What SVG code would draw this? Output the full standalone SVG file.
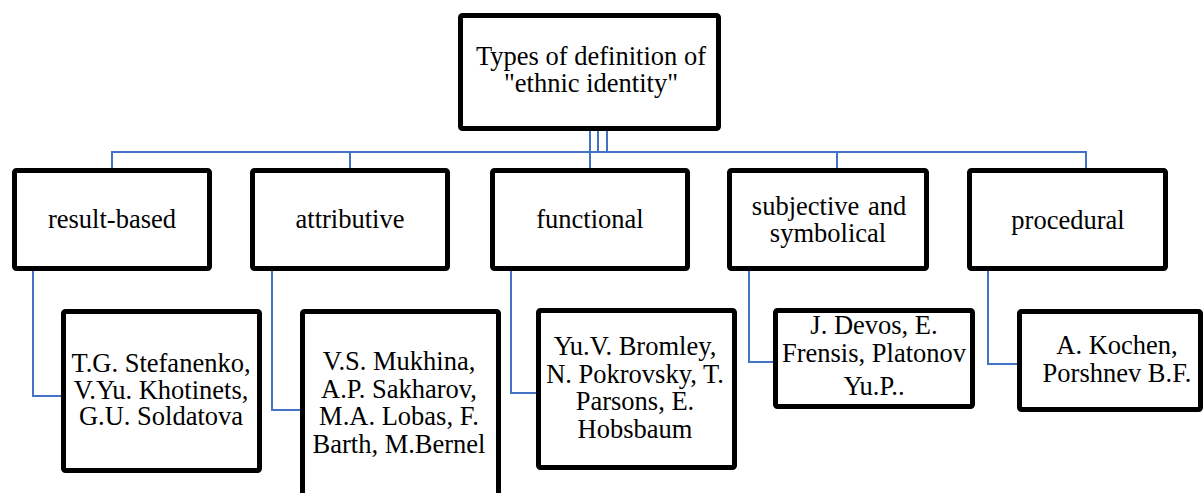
<svg xmlns="http://www.w3.org/2000/svg" width="1204" height="493" viewBox="0 0 1204 493">
<style>
.box{fill:#fff;stroke:#000;stroke-width:5;}
.t{font-family:"Liberation Serif","Times New Roman","DejaVu Serif",serif;font-size:26.5px;fill:#000;text-anchor:middle;}
.c{fill:none;stroke:#4472C4;stroke-width:2;}
</style>
<rect width="1204" height="493" fill="#fff"/>
<g id="connectors">
<path class="c" d="M590 131V152M598 131V152M607 131V152"/>
<path class="c" d="M112 168V152H1086V168M350 152V168M590 152V168M837 152V168"/>
<path class="c" d="M33 271V396H61"/>
<path class="c" d="M272 271V410H300"/>
<path class="c" d="M511 271V393H536"/>
<path class="c" d="M749 271V362H773"/>
<path class="c" d="M988 271V364H1017"/>
</g>
<g id="root">
<rect class="box" x="460.5" y="15.5" width="258" height="113" rx="2"/>
<text class="t" x="591" y="65">Types of definition of</text>
<text class="t" x="591" y="92">"ethnic identity"</text>
</g>
<g id="result-based">
<rect class="box" x="14.5" y="170.5" width="195" height="98" rx="2"/>
<text class="t" x="112" y="228">result-based</text>
</g>
<g id="attributive">
<rect class="box" x="252.5" y="170.5" width="195" height="98" rx="2"/>
<text class="t" x="350" y="228">attributive</text>
</g>
<g id="functional">
<rect class="box" x="492.5" y="170.5" width="195" height="98" rx="2"/>
<text class="t" x="590" y="228">functional</text>
</g>
<g id="subjective">
<rect class="box" x="729.5" y="170.5" width="197" height="98" rx="2"/>
<text class="t" x="829" y="215" word-spacing="2">subjective and</text>
<text class="t" x="828" y="242">symbolical</text>
</g>
<g id="procedural">
<rect class="box" x="969.5" y="170.5" width="196" height="98" rx="2"/>
<text class="t" x="1068" y="229">procedural</text>
</g>
<g id="authors-result">
<rect class="box" x="63.5" y="311.5" width="196" height="159" rx="2"/>
<text class="t" x="161" y="372">T.G. Stefanenko,</text>
<text class="t" x="161" y="399">V.Yu. Khotinets,</text>
<text class="t" x="161" y="425">G.U. Soldatova</text>
</g>
<g id="authors-attributive">
<rect class="box" x="302.5" y="311.5" width="196" height="190" rx="2"/>
<text class="t" x="399" y="370">V.S. Mukhina,</text>
<text class="t" x="399" y="398">A.P. Sakharov,</text>
<text class="t" x="399" y="425">M.A. Lobas, F.</text>
<text class="t" x="399" y="453">Barth, M.Bernel</text>
</g>
<g id="authors-functional">
<rect class="box" x="538.5" y="310.5" width="196" height="157" rx="2"/>
<text class="t" x="635" y="355">Yu.V. Bromley,</text>
<text class="t" x="635" y="383">N. Pokrovsky, T.</text>
<text class="t" x="635" y="410">Parsons, E.</text>
<text class="t" x="635" y="438">Hobsbaum</text>
</g>
<g id="authors-subjective">
<rect class="box" x="775.5" y="310.5" width="197" height="96" rx="2"/>
<text class="t" x="874" y="334">J. Devos, E.</text>
<text class="t" x="874" y="362">Frensis, Platonov</text>
<text class="t" x="874" y="395">Yu.P..</text>
</g>
<g id="authors-procedural">
<rect class="box" x="1019.5" y="311.5" width="181" height="98" rx="2"/>
<text class="t" x="1117" y="354">A. Kochen,</text>
<text class="t" x="1117" y="382">Porshnev B.F.</text>
</g>
</svg>
